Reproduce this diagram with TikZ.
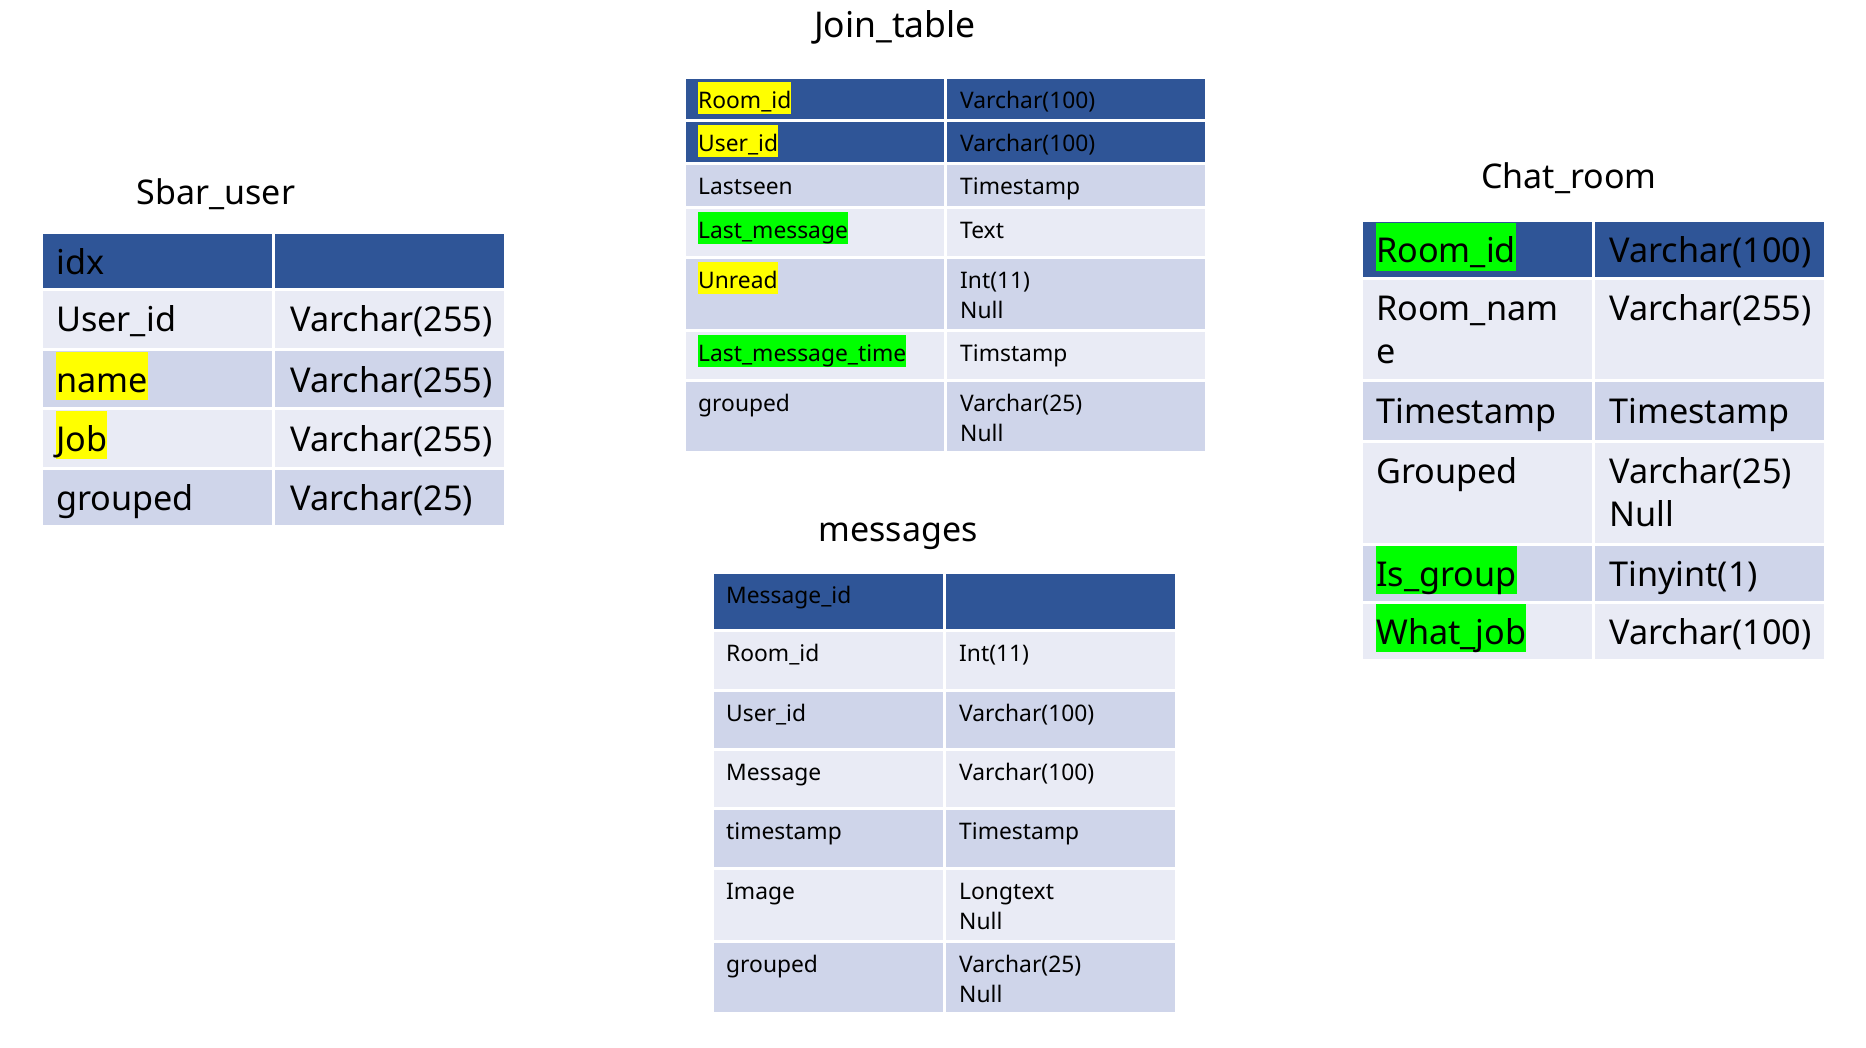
\documentclass[tikz,border=0pt]{standalone}
\usepackage{fontspec}
\setmainfont{Noto Sans}
\definecolor{hdblue}{HTML}{2F5597}
\definecolor{ltband}{HTML}{E9EBF5}
\definecolor{dkband}{HTML}{CFD5EA}
\definecolor{hlyellow}{HTML}{FFFF00}
\definecolor{hlgreen}{HTML}{00FF00}
\newcommand\hly[1]{{\fboxsep=0pt\colorbox{hlyellow}{\rule[-0.23em]{0pt}{1.41em}#1}}}
\newcommand\hlg[1]{{\fboxsep=0pt\colorbox{hlgreen}{\rule[-0.23em]{0pt}{1.41em}#1}}}
% two lines, baseline on the first one
\newcommand\twoln[2]{\vtop{\hbox{#1}\hbox{#2}}}

\begin{document}
\begin{tikzpicture}[
  x=1pt, y=-1pt,
  cell/.style={draw=white, line width=3pt, anchor=north west, inner sep=0pt, outer sep=0pt},
  txt/.style={anchor=base west, inner sep=0pt},
  small/.style={font=\fontsize{22.8}{30}\selectfont},
  big/.style={font=\fontsize{34.2}{43}\selectfont},
  title/.style={anchor=base, inner sep=0pt, font=\fontsize{34}{40}\selectfont},
]
\useasboundingbox (0,0) rectangle (1866,1048);

% Sbar_user
\node[title] (su-title) at (216,205) {Sbar\_user};
\foreach \n/\yy/\hh/\bg/\fld/\typ in {
    1/233/57/hdblue/idx/{},
    2/290/60/ltband/User\_id/Varchar(255),
    3/350/59/dkband/\hly{name}/Varchar(255),
    4/409/59/ltband/\hly{Job}/Varchar(255),
    5/468/58/dkband/grouped/Varchar(25)}{
  \node[cell, fill=\bg, minimum width=232, minimum height=\hh] (su-f\n) at (41,\yy) {};
  \node[cell, fill=\bg, minimum width=232, minimum height=\hh] (su-t\n) at (su-f\n.north east) {};
  \node[txt, big] (su-f\n-txt) at ([shift={(15,42)}]su-f\n.north west) {\fld};
  \node[txt, big] (su-t\n-txt) at ([shift={(17,42)}]su-t\n.north west) {\typ};
}

% Join_table
\node[title, font=\fontsize{35.5}{40}\selectfont] (jt-title) at (895,38) {Join\_table};
\foreach \n/\yy/\hh/\bg/\fld/\typ in {
    1/78/43/hdblue/\hly{Room\_id}/Varchar(100),
    2/121/43/hdblue/\hly{User\_id}/Varchar(100),
    3/164/44/dkband/Lastseen/Timestamp,
    4/208/50/ltband/\hlg{Last\_message}/Text,
    5/258/73/dkband/\hly{Unread}/{\twoln{Int(11)}{Null}},
    6/331/50/ltband/\hlg{Last\_message\_time}/Timstamp,
    7/381/71/dkband/grouped/{\twoln{Varchar(25)}{Null}}}{
  \node[cell, fill=\bg, minimum width=261, minimum height=\hh] (jt-f\n) at (684,\yy) {};
  \node[cell, fill=\bg, minimum width=261, minimum height=\hh] (jt-t\n) at (jt-f\n.north east) {};
  \node[txt, small] (jt-f\n-txt) at ([shift={(14,31)}]jt-f\n.north west) {\fld};
  \node[txt, small] (jt-t\n-txt) at ([shift={(15,31)}]jt-t\n.north west) {\typ};
}

% messages
\node[title] (ms-title) at (898,541) {messages};
\foreach \n/\yy/\hh/\bg/\fld/\typ in {
    1/572/58/hdblue/Message\_id/{},
    2/630/60/ltband/Room\_id/Int(11),
    3/690/59/dkband/User\_id/Varchar(100),
    4/749/59/ltband/Message/Varchar(100),
    5/808/60/dkband/timestamp/Timestamp,
    6/868/73/ltband/Image/{\twoln{Longtext}{Null}},
    7/941/72/dkband/grouped/{\twoln{Varchar(25)}{Null}}}{
  \node[cell, fill=\bg, minimum width=232, minimum height=\hh] (ms-f\n) at (712,\yy) {};
  \node[cell, fill=\bg, minimum width=232, minimum height=\hh] (ms-t\n) at (ms-f\n.north east) {};
  \node[txt, small] (ms-f\n-txt) at ([shift={(14,31)}]ms-f\n.north west) {\fld};
  \node[txt, small] (ms-t\n-txt) at ([shift={(15,31)}]ms-t\n.north west) {\typ};
}

% Chat_room
\node[title] (cr-title) at (1569,189) {Chat\_room};
\foreach \n/\yy/\hh/\bg/\fld/\typ in {
    1/221/58/hdblue/\hlg{Room\_id}/Varchar(100),
    2/279/102/ltband/{\twoln{Room\_nam}{e}}/Varchar(255),
    3/381/60/dkband/Timestamp/Timestamp,
    4/441/103/ltband/Grouped/{\twoln{Varchar(25)}{Null}},
    5/544/58/dkband/\hlg{Is\_group}/Tinyint(1),
    6/602/58/ltband/\hlg{What\_job}/Varchar(100)}{
  \node[cell, fill=\bg, minimum width=232, minimum height=\hh] (cr-f\n) at (1361,\yy) {};
  \node[cell, fill=\bg, minimum width=232, minimum height=\hh] (cr-t\n) at (cr-f\n.north east) {};
  \node[txt, big] (cr-f\n-txt) at ([shift={(15,42)}]cr-f\n.north west) {\fld};
  \node[txt, big] (cr-t\n-txt) at ([shift={(16,42)}]cr-t\n.north west) {\typ};
}
\end{tikzpicture}
\end{document}
